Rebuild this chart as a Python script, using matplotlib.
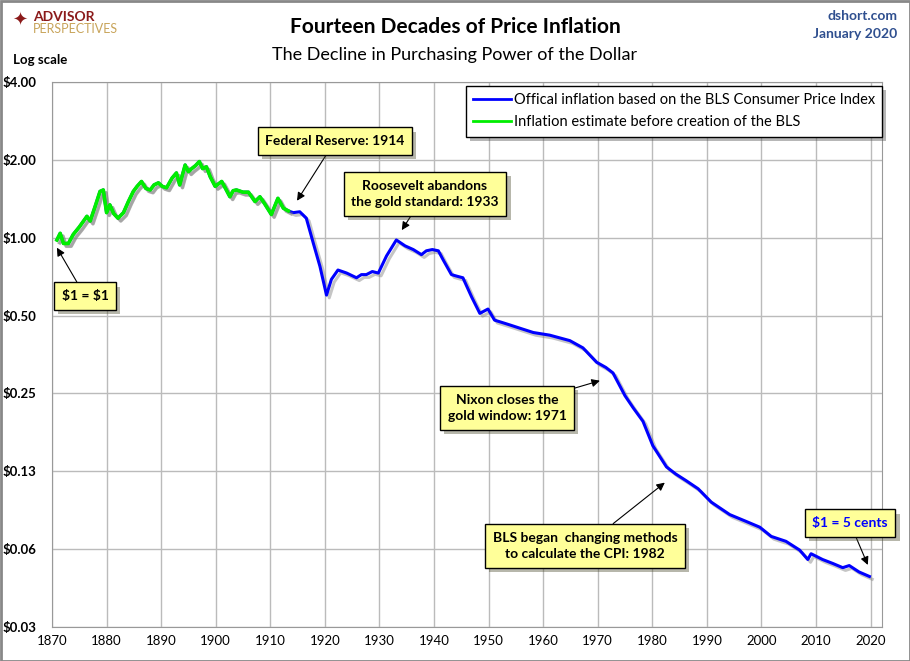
import numpy as np
import matplotlib.pyplot as plt
import matplotlib.patheffects as pe
from matplotlib.ticker import FixedLocator, FixedFormatter

plt.rcParams['font.family'] = ['Lato', 'DejaVu Sans']

# purchasing power of $1 (1870 = $1)
years = [1870.9, 1871.5, 1872.1, 1873.0, 1873.9, 1875.0, 1876.4, 1877.0, 1877.9, 1878.8,
         1879.4, 1880.0, 1880.6, 1881.3, 1882.1, 1883.1, 1884.0, 1884.9, 1885.6, 1886.4,
         1887.2, 1888.0, 1888.7, 1889.5, 1890.2, 1891.0, 1892.0, 1892.8, 1893.4, 1894.4,
         1895.0, 1895.6, 1896.3, 1897.0, 1897.6, 1898.3, 1899.0, 1899.9, 1901.1, 1901.8,
         1902.6, 1903.2, 1903.8, 1905.0, 1906.0, 1907.2, 1908.1, 1909.0, 1910.2, 1911.4,
         1912.4, 1913.3, 1914.2,
         1915.4, 1916.6, 1917.9, 1919.1, 1920.3, 1921.2, 1922.4, 1923.2, 1924.0, 1925.8,
         1926.7, 1927.6, 1928.7, 1929.8, 1931.3, 1933.1, 1934.7, 1936.2, 1937.7, 1938.6,
         1939.7, 1940.8, 1941.7, 1943.2, 1944.2, 1945.3, 1946.9, 1948.4, 1949.9, 1951.1,
         1952.5, 1953.9, 1956.0, 1958.2, 1961.2, 1964.9, 1967.3, 1969.8, 1971.5, 1972.8,
         1975.0, 1976.5, 1978.3, 1980.1, 1982.6, 1984.3, 1986.2, 1988.4, 1990.8, 1994.2,
         1997.2, 1999.7, 2001.8, 2004.5, 2007.0, 2008.5, 2009.1, 2011.2, 2013.1, 2014.9,
         2016.1, 2017.9, 2019.8]
values = [0.98, 1.04, 0.95, 0.95, 1.03, 1.10, 1.21, 1.16, 1.32, 1.51,
          1.53, 1.25, 1.34, 1.24, 1.19, 1.25, 1.38, 1.51, 1.58, 1.65,
          1.55, 1.53, 1.60, 1.63, 1.58, 1.56, 1.70, 1.78, 1.60, 1.91,
          1.80, 1.85, 1.90, 1.97, 1.85, 1.88, 1.72, 1.58, 1.65, 1.55,
          1.44, 1.52, 1.53, 1.50, 1.50, 1.38, 1.44, 1.35, 1.23, 1.42,
          1.30, 1.27, 1.25,
          1.26, 1.19, 0.95, 0.775, 0.60, 0.69, 0.75, 0.74, 0.73, 0.70,
          0.72, 0.72, 0.74, 0.73, 0.85, 0.98, 0.93, 0.90, 0.86, 0.89,
          0.90, 0.89, 0.82, 0.72, 0.71, 0.70, 0.59, 0.51, 0.53, 0.48,
          0.47, 0.46, 0.445, 0.43, 0.42, 0.40, 0.375, 0.33, 0.315, 0.30,
          0.245, 0.22, 0.195, 0.157, 0.13, 0.122, 0.115, 0.107, 0.095, 0.085,
          0.080, 0.076, 0.070, 0.067, 0.062, 0.057, 0.060, 0.057, 0.055, 0.053,
          0.054, 0.051, 0.049]
bls_start = 1913.3  # green estimate up to here

y_ticks = [4, 2, 1, 0.5, 0.25, 0.125, 0.0625, 0.03125]
y_labels = ['$4.00', '$2.00', '$1.00', '$0.50', '$0.25', '$0.13', '$0.06', '$0.03']
x_ticks = list(range(1870, 2021, 10))

years = np.array(years)
values = np.array(values)
early = years <= bls_start

fig = plt.figure(figsize=(9.1, 6.61), dpi=100)
ax = fig.add_axes([52/910, 1-627/661, 830/910, 545/661])

shadow = [pe.SimpleLineShadow(offset=(2, -2), shadow_color='gray', alpha=0.45), pe.Normal()]
ax.plot(years, values, color='#0000FF', lw=2.2, path_effects=shadow, zorder=3,
        label='Offical inflation based on the BLS Consumer Price Index')
ax.plot(years[early], values[early], color='#00EE00', lw=2.6, path_effects=shadow, zorder=4,
        label='Inflation estimate before creation of the BLS')

ax.set_yscale('log', base=2)
ax.set_ylim(0.03125, 4)
ax.set_xlim(1870, 2022.1)
ax.yaxis.set_major_locator(FixedLocator(y_ticks))
ax.yaxis.set_major_formatter(FixedFormatter(y_labels))
ax.yaxis.set_minor_locator(FixedLocator([]))
ax.set_xticks(x_ticks)
ax.grid(True, color='#BBBBBB', lw=1)
ax.set_axisbelow(True)
for s in ax.spines.values():
    s.set_color('#999999')
ax.tick_params(length=0, pad=6)
ax.tick_params(axis='x', labelsize=9.5)
ax.tick_params(axis='y', pad=11)
for lab in ax.get_yticklabels():
    lab.set_fontweight('bold')
    lab.set_fontsize(9.5)

leg = ax.legend(loc='upper right', bbox_to_anchor=(1.0, 1 - 4/545), borderaxespad=0,
                fontsize=10.5, frameon=True, fancybox=False, edgecolor='black', framealpha=1,
                handlelength=2.6, handletextpad=0.15, borderpad=0.5, labelspacing=0.55)
leg.get_frame().set_linewidth(1)
leg.get_frame().set_path_effects([pe.withSimplePatchShadow(offset=(3, -3), alpha=0.4)])
for line in leg.get_lines():
    line.set_path_effects([])
    line.set_linewidth(2)

box = dict(boxstyle='square,pad=0.55', fc='#FFFF99', ec='black', lw=1)
arrow = dict(arrowstyle='-|>', color='black', lw=0.8, mutation_scale=12, shrinkA=0, shrinkB=0)
notes = [
    ('\\$1 = \\$1', (1870.9, 0.915), (85, 365), 'black'),
    ('Federal Reserve: 1914', (1914.9, 1.39), (335, 520), 'black'),
    ('Roosevelt abandons\nthe gold standard: 1933', (1934.1, 1.07), (425, 467), 'black'),
    ('Nixon closes the\ngold window: 1971', (1970.4, 0.28), (507, 253), 'black'),
    ('BLS began  changing methods\nto calculate the CPI: 1982', (1982.3, 0.113), (585, 115), 'black'),
    ('\\$1 = 5 cents', (2019.5, 0.0543), (850, 138), '#0000FF'),
]
for text, xy, pos, col in notes:
    a = ax.annotate(text, xy=xy, xycoords='data', xytext=pos, textcoords='figure pixels',
                    ha='center', va='center', fontsize=10, fontweight='bold', color=col,
                    bbox=box, arrowprops=arrow, zorder=6, linespacing=1.45)
    a.get_bbox_patch().set_path_effects([pe.withSimplePatchShadow(offset=(3, -3), alpha=0.4)])

fig.text(455/910, 1-27/661, 'Fourteen Decades of Price Inflation', ha='center', va='center',
         fontsize=15, fontweight='bold')
fig.text(455/910, 1-55/661, 'The Decline in Purchasing Power of the Dollar', ha='center',
         va='center', fontsize=13)
fig.text(13/910, 1-60/661, 'Log scale', ha='left', va='center', fontsize=9.5, fontweight='bold')
fig.text(897/910, 1-16/661, 'dshort.com', ha='right', va='center', fontsize=10,
         fontweight='bold', color='#2F4F8F')
fig.text(897/910, 1-34/661, 'January 2020', ha='right', va='center', fontsize=10,
         fontweight='bold', color='#2F4F8F')

# logo
fig.text(20/910, 1-21/661, '\u2726', ha='center', va='center', fontsize=13,
         color='#8B1A1A', family='DejaVu Sans')
fig.text(33/910, 1-21/661, 'ADVISOR', ha='left', va='baseline', fontsize=10,
         fontweight='bold', color='#8B1A1A')
fig.text(33/910, 1-33/661, 'PERSPECTIVES', ha='left', va='baseline', fontsize=9,
         color='#C8A45A')

fig.patches.append(plt.Rectangle((0.5/910, 0.5/661), 909/910, 660/661, transform=fig.transFigure,
                                 fill=False, ec='#888888', lw=2))

fig.savefig('out.png', dpi=100)
